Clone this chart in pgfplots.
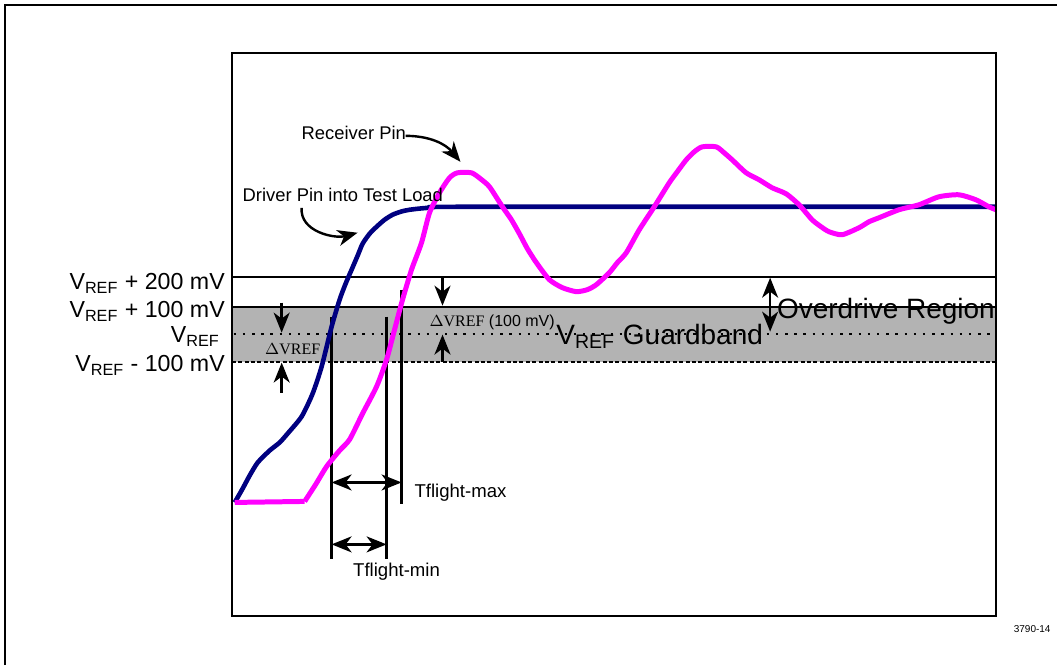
\documentclass[border=0pt]{standalone}
\usepackage{pgfplots}
\pgfplotsset{compat=1.18}
\usetikzlibrary{arrows.meta}
\usepackage{fontspec}
\setmainfont{Liberation Sans}
\newfontfamily\timesfont{Liberation Serif}
\definecolor{drv}{RGB}{0,0,128}
\definecolor{rcv}{RGB}{255,0,255}
\definecolor{band}{RGB}{179,179,179}
\newcommand{\vref}{V\textsubscript{REF}}
\newcommand{\fs}[1]{\fontsize{#1}{#1}\selectfont}
\begin{document}
\begin{tikzpicture}
\begin{axis}[
    % axis units are pixels of the reference, y measured downwards
    xmin=0, xmax=1058, ymin=0, ymax=666,
    y dir=reverse,
    width=529pt, height=333pt, scale only axis,
    hide axis, clip=false,
]
\path (axis cs:0,0) (axis cs:1058,666);

% outer frame
\draw[line width=1.2pt] (axis cs:5,666) -- (axis cs:5,5) -- (axis cs:1058,5);

% guardband
\fill[band] (axis cs:232,307) rectangle (axis cs:997,362);
\draw[line width=1pt] (axis cs:232,277) -- (axis cs:997,277);
\draw[line width=1pt] (axis cs:232,307) -- (axis cs:997,307);
\draw[line width=1pt, dash pattern=on 2pt off 1.2pt] (axis cs:232,362) -- (axis cs:997,362);
\draw[line width=1.1pt, dash pattern=on 1.2pt off 3.4pt] (axis cs:234,334) -- (axis cs:997,334);

% timing markers
\draw[line width=1.2pt] (axis cs:332,317) -- (axis cs:332,560);
\draw[line width=1.2pt] (axis cs:387,317) -- (axis cs:387,560);
\draw[line width=1.2pt] (axis cs:402,290) -- (axis cs:402,505);

% driver pin
\addplot[drv, line width=2.3pt, line join=round, smooth, tension=0.4] coordinates {
  (235,503) (243,489) (250,476) (258,463) (270,451) (280,443) (288,434)
  (302,417) (313,394) (322,367) (332,327) (340,300) (346,284) (352,270)
  (358,256) (363,244) (370,234) (377,227) (385,220) (393,215) (401,212)
  (410,210) (430,208) (470,207) (998,207)
};
% receiver pin, flat start then the ringing edge
\addplot[rcv, line width=2.5pt, line join=round] coordinates {
  (235,503) (305,502)
};
\addplot[rcv, line width=2.5pt, line join=round, smooth, tension=0.4] coordinates {
  (305,502) (316,485) (327,467) (340,451) (350,440) (363,414)
  (377,387) (387,360) (395,330) (403,300) (412,270) (422,243) (430,213)
  (440,193) (450,178) (458,173) (472,173) (481,179) (490,187) (503,207)
  (512,220) (520,234) (528,249) (537,263) (550,280) (563,288) (577,292)
  (588,290) (597,285) (610,273) (618,263) (627,253) (640,230) (655,207)
  (670,183) (678,172) (687,160) (695,152) (703,147) (717,147) (725,153)
  (733,160) (747,173) (760,180) (773,188) (787,194) (800,205) (813,220)
  (822,227) (830,232) (843,235) (860,228) (870,222) (880,218) (900,210)
  (920,205) (940,197) (960,195) (977,200) (990,207) (997,210)
};

% inner frame
\draw[line width=1.1pt] (axis cs:232,53) rectangle (axis cs:997,617);

% arrows
\tikzset{tip/.tip={Stealth[length=10pt,width=8pt,inset=3pt]},
         arr/.style={line width=1.2pt, -tip},
         darr/.style={line width=1.2pt, tip-tip}}
\draw[arr] (axis cs:282,303) -- (axis cs:282,333);
\draw[arr] (axis cs:282,393) -- (axis cs:282,363);
\draw[arr] (axis cs:443,277) -- (axis cs:443,306);
\draw[arr] (axis cs:443,362) -- (axis cs:443,335);
\draw[darr] (axis cs:771,278) -- (axis cs:771,332);
\draw[darr] (axis cs:332,483) -- (axis cs:402,483);
\draw[darr] (axis cs:332,545) -- (axis cs:387,545);
\draw[arr] (axis cs:406,136) to[out=0,in=130] (axis cs:461,162);
\draw[arr] (axis cs:302,208) to[out=-95,in=195] (axis cs:358,233);

% labels
\tikzset{lbl/.style={inner sep=0pt, outer sep=0pt}}
\node[lbl, anchor=base east] at (axis cs:225,290) {\fs{11.6}\vref{} + 200 mV};
\node[lbl, anchor=base east] at (axis cs:225,318) {\fs{11.6}\vref{} + 100 mV};
\node[lbl, anchor=base east] at (axis cs:220,343) {\fs{11.6}\vref};
\node[lbl, anchor=base east] at (axis cs:225,372) {\fs{11.6}\vref{} - 100 mV};
\node[lbl, anchor=base west] at (axis cs:302,140) {\fs{9.2}Receiver Pin};
\node[lbl, anchor=base west] at (axis cs:243,202) {\fs{9.2}Driver Pin into Test Load};
\node[lbl, anchor=base] at (axis cs:293,355) {\fs{8}\timesfont $\Delta$VREF};
\node[lbl, anchor=base west] at (axis cs:430,327) {\fs{8}{\timesfont $\Delta$VREF} (100 mV)};
\node[lbl, anchor=base west] at (axis cs:557,345) {\fs{14}\vref{} Guardband};
\node[lbl, anchor=base west] at (axis cs:778,319) {\fs{14}Overdrive Region};
\node[lbl, anchor=base west] at (axis cs:415,498) {\fs{9.3}Tflight-max};
\node[lbl, anchor=base] at (axis cs:397,577) {\fs{9.3}Tflight-min};
\node[lbl, anchor=base west] at (axis cs:1015,633) {\fs{5}3790-14};
\end{axis}
\end{tikzpicture}
\end{document}
